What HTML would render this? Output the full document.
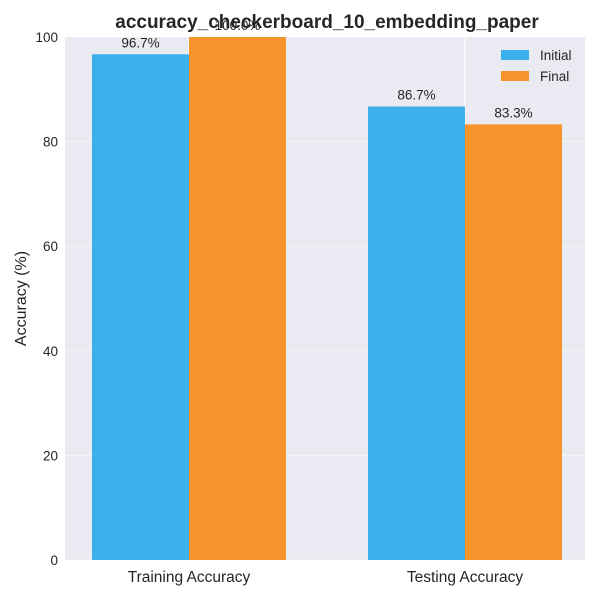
<!DOCTYPE html>
<html><head><meta charset="utf-8"><style>body{margin:0;background:#fff}svg{display:block;font-family:"Liberation Sans",Arial,sans-serif}</style></head>
<body>
<svg id="chart" width="600" height="600"></svg>
<script>
const categories = ["Training Accuracy", "Testing Accuracy"];
const initialValues = [96.7, 86.7];
const finalValues = [100.0, 83.3];
const yTicks = [0, 20, 40, 60, 80, 100];
const seriesNames = ["Initial", "Final"];

const NS = "http://www.w3.org/2000/svg";
const svg = document.getElementById("chart");
const L = 65, R = 585, T = 37, B = 560;
const y = v => B - (v / 100) * (B - T);
const xc = i => 189 + i * 276;
const barW = 97;
function mk(tag, attrs, parent) {
  const e = document.createElementNS(NS, tag);
  for (const k in attrs) e.setAttribute(k, attrs[k]);
  (parent || svg).appendChild(e);
  return e;
}
const bg = mk("rect", {x: L, y: T, width: R - L, height: B - T, fill: "#eaeaf2"});


yTicks.forEach(t => {
  const g = mk("line", {x1: L, x2: R, y1: y(t), y2: y(t), stroke: "#fff", "stroke-width": 1, "stroke-dasharray": "5,3", opacity: 0.8});
  
  
  const lb = mk("text", {x: L - 7, y: y(t) + 5, "text-anchor": "end", "font-size": 13.5, fill: "#262626"});
  lb.textContent = t;
  
  
});
categories.forEach((c, i) => {
  const g = mk("line", {x1: xc(i), x2: xc(i), y1: T, y2: B, stroke: "#fff", "stroke-width": 1.2});
  
  
  const lb = mk("text", {x: xc(i), y: 582, "text-anchor": "middle", "font-size": 15.5, fill: "#262626"});
  lb.textContent = c;
  
  
});
const colors = ["#3cb0ec", "#f7952c"];
[initialValues, finalValues].forEach((vals, s) => {
  vals.forEach((v, i) => {
    const x0 = xc(i) - barW + s * barW;
    const r = mk("rect", {x: x0, y: y(v), width: barW, height: B - y(v), fill: colors[s]});
    
    
    const lb = mk("text", {x: x0 + barW / 2, y: y(v) - 7, "text-anchor": "middle", "font-size": 13.5, fill: "#262626"});
    lb.textContent = v.toFixed(1) + "%";
    
    
  });
});
const yt = mk("text", {x: 26, y: (T + B) / 2, "text-anchor": "middle", "font-size": 16, fill: "#262626", transform: `rotate(-90 26 ${(T + B) / 2})`});
yt.textContent = "Accuracy (%)";


const title = mk("text", {x: 327, y: 28, "text-anchor": "middle", "font-size": 19, "font-weight": "bold", fill: "#262626"});
title.textContent = "accuracy_checkerboard_10_embedding_paper";


seriesNames.forEach((n, s) => {
  const sw = mk("rect", {x: 501, y: 50 + s * 21, width: 28, height: 10, fill: colors[s]});
  
  
  const lb = mk("text", {x: 540, y: 60 + s * 21, "font-size": 13.5, fill: "#262626"});
  lb.textContent = n;
  
  
});
</script>
</body></html>
